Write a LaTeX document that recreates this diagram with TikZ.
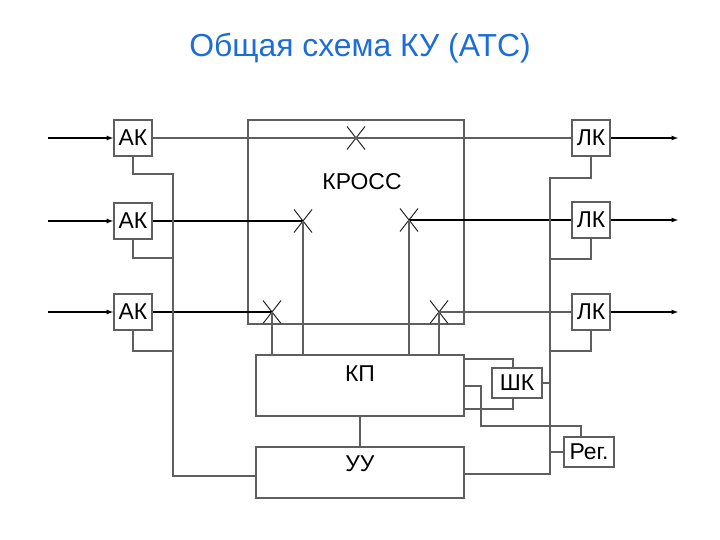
\documentclass[tikz,border=0pt]{standalone}
\usepackage{fontspec}
\setmainfont{Liberation Sans}
\usetikzlibrary{shapes.misc}
\definecolor{titleblue}{RGB}{28,110,214}
\definecolor{wiregray}{RGB}{95,95,95}
\tikzset{
  blk/.style={draw=wiregray,line width=1.8bp,inner sep=0pt,font=\fontsize{23}{25}\selectfont},
  crs/.style={cross out,draw=black!85,line width=1bp,minimum width=17bp,minimum height=22bp,inner sep=0pt},
  wire/.style={draw=wiregray,line width=1.8bp},
  sig/.style={draw=black,line width=1.2bp},
}
\begin{document}
\begin{tikzpicture}[x=1bp,y=-1bp]
  %\draw[help lines,step=20bp] (0,0) grid (720,540);
  \useasboundingbox (0,0) rectangle (720,540);
  \node[text=titleblue,font=\fontsize{32}{36}\selectfont] (title) at (360,48) {Общая схема КУ (АТС)};
  \node[blk,minimum width=216bp,minimum height=204bp] (kross) at (356,222) {};
  \node[font=\fontsize{23}{25}\selectfont] (krosstxt) at (362,182) {КРОСС};
  \node[blk,minimum width=38bp,minimum height=36bp] (ak1) at (133,138) {АК};
  \node[blk,minimum width=38bp,minimum height=36bp] (ak2) at (133,221) {АК};
  \node[blk,minimum width=38bp,minimum height=36bp] (ak3) at (133,312) {АК};
  \node[blk,minimum width=38bp,minimum height=36bp] (lk1) at (591,138) {ЛК};
  \node[blk,minimum width=38bp,minimum height=36bp] (lk2) at (591,220) {ЛК};
  \node[blk,minimum width=38bp,minimum height=36bp] (lk3) at (591,312) {ЛК};
  \node[blk,minimum width=208bp,minimum height=61bp] (kp) at (360,385.5) {};
  \node[font=\fontsize{23}{25}\selectfont] (kptxt) at (360,374) {КП};
  \node[blk,minimum width=208bp,minimum height=51bp] (uu) at (360,472.5) {};
  \node[font=\fontsize{23}{25}\selectfont] (uutxt) at (360,464) {УУ};
  \node[blk,minimum width=50bp,minimum height=30bp] (shk) at (517,383) {ШК};
  \node[blk,minimum width=50bp,minimum height=30bp] (reg) at (589,452) {Рег.};
  % crossings
  \node[crs] (x0) at (356,138) {};
  \node[crs] (x1) at (303,221) {};
  \node[crs] (x2) at (409,220) {};
  \node[crs] (x3) at (272,312) {};
  \node[crs] (x4) at (439,312) {};
  % inputs and outputs
  \coordinate (in1) at (48,138);
  \coordinate (in2) at (48,221);
  \coordinate (in3) at (48,312);
  \coordinate (out1) at (678,138);
  \coordinate (out2) at (678,220);
  \coordinate (out3) at (678,312);
  \path[sig,-latex] (in1) -- (ak1);
  \path[sig,-latex] (in2) -- (ak2);
  \path[sig,-latex] (in3) -- (ak3);
  \path[sig,-latex] (lk1) -- (out1);
  \path[sig,-latex] (lk2) -- (out2);
  \path[sig,-latex] (lk3) -- (out3);
  % lines through the cross
  \path[wire] (ak1) -- (lk1);
  \path[sig] (ak2) -- (x1.center);
  \path[sig] (ak3) -- (x3.center);
  \path[sig] (lk2) -- (x2.center);
  \path[wire] (lk3) -- (x4.center);
  \path[wire] (x1.center) -- (x1.center |- kp.north);
  \path[wire] (x2.center) -- (x2.center |- kp.north);
  \path[wire] (x3.center) -- (x3.center |- kp.north);
  \path[wire] (x4.center) -- (x4.center |- kp.north);
  % control buses
  \coordinate (lbtop) at (173,174);
  \coordinate (lbbot) at (173,476);
  \coordinate (rbtop) at (550,178);
  \coordinate (rbbot) at (550,474);
  \path[wire] (ak1.south) |- (lbtop) -- (lbbot) -- (lbbot -| uu.west);
  \path[wire] (ak2.south) |- (173,258);
  \path[wire] (ak3.south) |- (173,351);
  \path[wire] (lk1.south) |- (rbtop) -- (rbbot) -- (rbbot -| uu.east);
  \path[wire] (lk2.south) |- (550,259);
  \path[wire] (lk3.south) |- (550,351);
  \path[wire] (shk) -- (shk -| rbtop);
  \path[wire] (reg) -- (reg -| rbtop);
  % KP links
  \path[wire] (kp) -- (uu);
  \path[wire] (kp.east |- 0,359) -| ([xshift=-4bp]shk.north);
  \path[wire] (kp.east |- 0,409) -| ([xshift=-4bp]shk.south);
  \path[wire] (kp.east |- 0,386) -| (481,426) -| ([xshift=-8bp]reg.north);
\end{tikzpicture}
\end{document}
